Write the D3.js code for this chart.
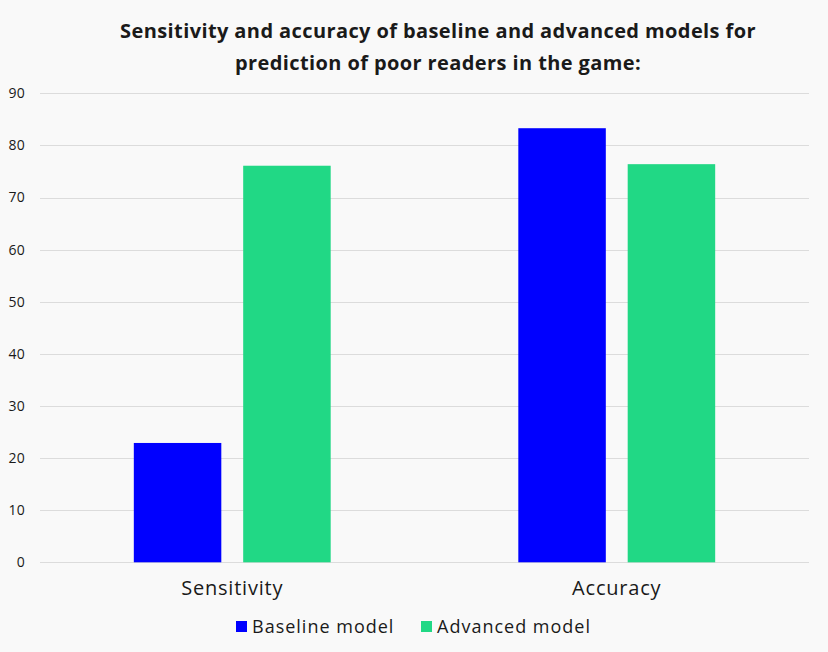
<!DOCTYPE html>
<html>
<head>
  <script src="https://d3js.org/d3.v7.min.js"></script>
  <style>
    * { margin: 0; box-sizing: border-box; }
    body { background: #f9f9f9; }
    text { font-family: "Open Sans", sans-serif; fill: #1a1a1a; }
    .grid line { stroke: #dcdcdc; stroke-width: 1px; }
  </style>
</head>
<body>
  <script>
    const categories = ["Sensitivity", "Accuracy"];
    const seriesNames = ["Baseline model", "Advanced model"];
    const baselineValues = [22.9, 83.3];
    const advancedValues = [76.1, 76.4];
    const yTicks = [0, 10, 20, 30, 40, 50, 60, 70, 80, 90];
    const colors = ["#0000ff", "#21d885"];

    const width = 828, height = 652;
    const margin = { left: 40, right: 19, top: 93, bottom: 90 };

    const svg = d3.select("body").append("svg")
      .attr("width", width)
      .attr("height", height);

    const x0 = d3.scaleBand()
      .domain(categories)
      .range([margin.left, width - margin.right])
      .paddingInner(0.488)
      .paddingOuter(0.244);

    const x1 = d3.scaleBand()
      .domain(seriesNames)
      .range([0, x0.bandwidth()])
      .paddingInner(0.2)
      .paddingOuter(0);

    const y = d3.scaleLinear()
      .domain([0, 90])
      .range([height - margin.bottom + 0.3, margin.top + 0.3]);

    // gridlines
    svg.append("g")
      .attr("class", "grid")
      .selectAll("line")
      .data(yTicks)
      .enter().append("line")
      .attr("x1", margin.left)
      .attr("x2", width - margin.right)
      .attr("y1", d => Math.round(y(d)) + 0.5)
      .attr("y2", d => Math.round(y(d)) + 0.5);

    // y tick labels
    svg.append("g")
      .selectAll("text")
      .data(yTicks)
      .enter().append("text")
      .attr("x", 25)
      .attr("y", d => y(d))
      .attr("dy", "0.35em")
      .attr("text-anchor", "end")
      .style("font-size", "14px")
      .style("letter-spacing", "0.3px")
      .text(d => d);

    // bars
    const rows = categories.map((c, i) => ({
      category: c,
      values: [baselineValues[i], advancedValues[i]]
    }));

    const groups = svg.selectAll(".group")
      .data(rows)
      .enter().append("g")
      .attr("transform", d => `translate(${x0(d.category)},0)`);

    groups.selectAll("rect")
      .data(d => d.values.map((v, i) => ({ key: seriesNames[i], value: v, i })))
      .enter().append("rect")
      .attr("x", d => x1(d.key))
      .attr("width", x1.bandwidth())
      .attr("y", d => y(d.value))
      .attr("height", d => y(0) - y(d.value))
      .attr("fill", d => colors[d.i]);

    // category labels
    svg.append("g")
      .selectAll("text")
      .data(categories)
      .enter().append("text")
      .attr("x", d => x0(d) + x0.bandwidth() / 2)
      .attr("y", 595)
      .attr("text-anchor", "middle")
      .style("font-size", "20px")
      .style("letter-spacing", "0.8px")
      .text(d => d);

    // title
    const title = svg.append("text")
      .attr("x", 438)
      .attr("text-anchor", "middle")
      .style("font-size", "20px")
      .style("font-weight", "bold")
      .style("letter-spacing", "0.4px");
    title.append("tspan").attr("x", 438).attr("y", 38)
      .text("Sensitivity and accuracy of baseline and advanced models for");
    title.append("tspan").attr("x", 438).attr("y", 70)
      .text("prediction of poor readers in the game:");

    // legend
    const legendX = [236, 421];
    const legend = svg.append("g")
      .selectAll("g")
      .data(seriesNames)
      .enter().append("g")
      .attr("transform", (d, i) => `translate(${legendX[i]},621)`);
    legend.append("rect")
      .attr("width", 11)
      .attr("height", 11)
      .attr("fill", (d, i) => colors[i]);
    legend.append("text")
      .attr("x", 16)
      .attr("y", 12)
      .style("font-size", "18px")
      .style("letter-spacing", "1px")
      .text(d => d);
  </script>
</body>
</html>
